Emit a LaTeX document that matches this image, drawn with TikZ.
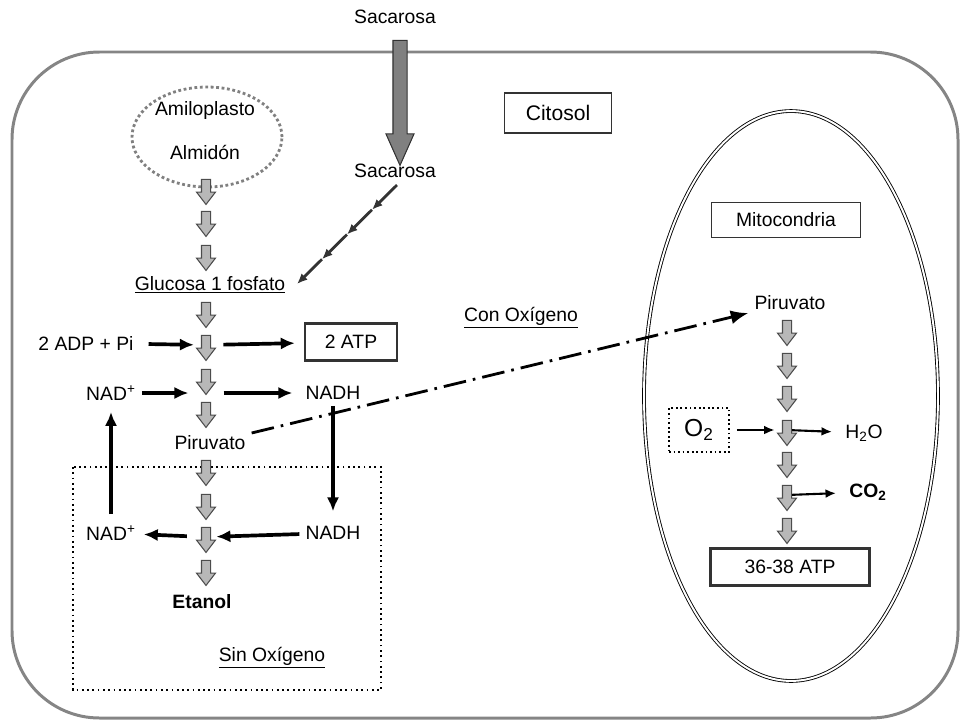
\documentclass[tikz,border=0pt]{standalone}
\usepackage{fontspec}
\setmainfont{Liberation Sans}
\usepackage{tikz}
\usetikzlibrary{shapes.arrows, arrows.meta, calc}
\usetikzlibrary{positioning}

\begin{document}
\begin{tikzpicture}[x=0.02cm, y=-0.02cm, font=\fontsize{11}{13}\selectfont,
	paso/.style={single arrow, draw=black!70, fill=black!28, line width=0.6pt, minimum height=0.5cm, inner sep=0.08cm, single arrow head extend=0.1cm, single arrow tip angle=75, shape border rotate=270},
	grueso/.style={-{Latex[length=8pt,width=7pt]}, line width=2.1pt},
	fino/.style={-{Latex[length=6pt,width=5pt]}, line width=1.2pt},
	cadena/.style={-{Latex[length=6pt,width=5pt]}, line width=1.6pt, black!80},
	marco/.style={draw, rectangle, inner sep=0pt}]
	\useasboundingbox (0,0) rectangle (961,721);
	\draw[black!48, line width=1.7pt, rounded corners=1.75cm] (12,52) rectangle (958,718);
	\draw[black!50, line width=1.6pt, dash pattern=on 1.6pt off 1.5pt] (207,137) ellipse [x radius=1.5cm, y radius=1cm];
	\draw[black, line width=0.5pt, double, double distance=1.1pt] (791,396) ellipse [x radius=2.94cm, y radius=5.7cm];
	\draw[black, line width=1pt, dash pattern=on 1pt off 2pt] (73,467) rectangle (381,690);
	\node (0) at (395,17) {Sacarosa};
	\node[single arrow, draw=black!80, fill=black!50, line width=0.6pt, minimum height=2.5cm, inner sep=0.13cm, single arrow head extend=0.14cm, single arrow tip angle=48, shape border rotate=270] (1) at (400,95) {};
	\node (2) at (395,171) {Sacarosa};
	\node (3) at (205,110) {Amiloplasto};
	\node (4) at (205,152) {Almidón};
	\node[marco, draw=black!80, line width=0.6pt, minimum width=2.14cm, minimum height=0.8cm, font=\fontsize{12}{14}\selectfont] (5) at (558,113) {Citosol};
	\node (6) at (210,285) {\underline{Glucosa 1 fosfato}};
	\foreach \y [count=\i] in {189,221,255,312,345,379,412,470,504,537,570}
		\node[paso] (p\i) at (206,\y) {};
	\node (7) at (86,343) {2 ADP + Pi};
	\node[marco, draw=black!80, line width=1.6pt, minimum width=1.84cm, minimum height=0.74cm] (8) at (351,342) {2 ATP};
	\node (9) at (111,393) {NAD\textsuperscript{+}};
	\node (10) at (333,393) {NADH};
	\node (11) at (210,443) {Piruvato};
	\node (12) at (111,533) {NAD\textsuperscript{+}};
	\node (13) at (333,533) {NADH};
	\node (14) at (202,602) {\textbf{Etanol}};
	\node (15) at (272,658) {\underline{Sin Oxígeno}};
	\node (16) at (521,318) {\underline{Con Oxígeno}};
	\node[marco, draw=black!80, line width=0.6pt, minimum width=2.98cm, minimum height=0.7cm] (17) at (786,220) {Mitocondria};
	\node (18) at (790,303) {Piruvato};
	\foreach \y [count=\i] in {330,363,396,430,462,495,528}
		\node[paso] (m\i) at (787,\y) {};
	\node[marco, line width=1pt, dash pattern=on 1pt off 1.6pt, minimum width=1.2cm, minimum height=0.88cm, font=\fontsize{14}{16}\selectfont] (19) at (699,430) {O\textsubscript{2}};
	\node (20) at (864,433) {H\textsubscript{2}O};
	\node (21) at (868,492) {\textbf{CO\textsubscript{2}}};
	\node[marco, draw=black!80, line width=1.2pt, minimum width=3.18cm, minimum height=0.74cm] (22) at (790,567) {36-38 ATP};
	\coordinate (c0) at (397,185);
	\coordinate (c1) at (297,284);
	\foreach \a/\b in {0/0.25,0.25/0.5,0.5/0.75,0.75/1}
		\draw[cadena] ($(c0)!\a!(c1)$) to ($(c0)!\b!(c1)$);
	\draw [grueso, shorten <=5pt, shorten >=4pt] (7) to (p5);
	\draw [grueso, shorten <=7pt, shorten >=5pt] (p5) to (8);
	\draw [grueso, shorten >=10pt] (9) to (9 -| p6.tip);
	\draw [grueso, shorten <=10pt, shorten >=4pt] (10 -| p6.tip) to (10);
	\draw [grueso, shorten >=5pt] (10) to (13);
	\draw [grueso, shorten >=3pt] (13) to (p10);
	\draw [grueso, shorten <=8pt, shorten >=1pt] (p10) to (12);
	\draw [grueso, shorten <=3pt, shorten >=3pt] (12) to (9);
	\draw [-{Latex[length=10pt,width=8pt]}, line width=1.6pt, dash pattern=on 13pt off 4pt on 1.5pt off 4pt] (11) to (18);
	\draw [fino, shorten <=4pt, shorten >=7pt] (19) to (19 -| m4);
	\draw [fino, shorten >=4pt] (m4) to (20);
	\draw [fino, shorten >=4pt] (m6) to (21);
\end{tikzpicture}
\end{document}
